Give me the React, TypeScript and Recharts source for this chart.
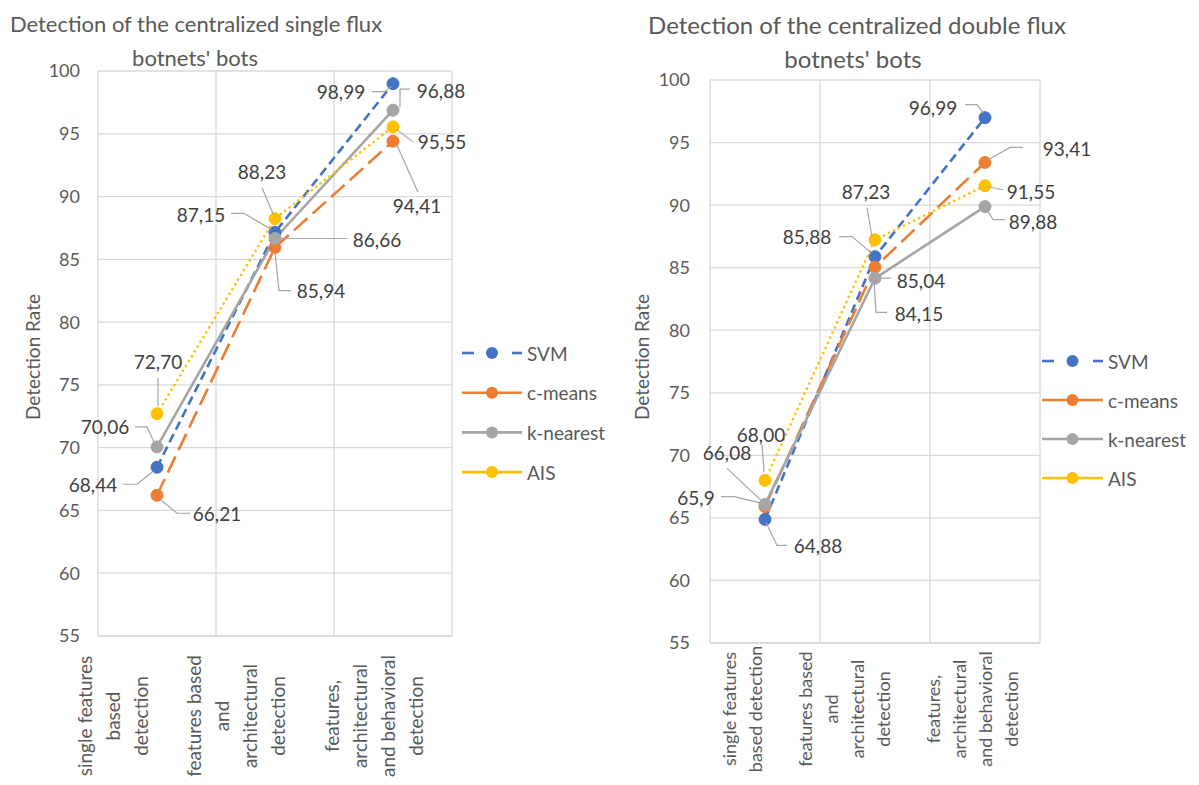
import { LineChart, Line, XAxis, YAxis, CartesianGrid, LabelList } from 'recharts'

const FONT = 'Lato, "Open Sans", sans-serif'

// categories and their wrapped tick lines
const categories = [
  'single features based detection',
  'features based and architectural detection',
  'features, architectural and behavioral detection',
]
const singleTickLines = [
  ['single features', 'based', 'detection'],
  ['features based', 'and', 'architectural', 'detection'],
  ['features,', 'architectural', 'and behavioral', 'detection'],
]
const doubleTickLines = [
  ['single features', 'based detection'],
  ['features based', 'and', 'architectural', 'detection'],
  ['features,', 'architectural', 'and behavioral', 'detection'],
]
const yTicks = [55, 60, 65, 70, 75, 80, 85, 90, 95, 100]

// centralized single flux
const singleSvm = [68.44, 87.15, 98.99]
const singleCMeans = [66.21, 85.94, 94.41]
const singleKNearest = [70.06, 86.66, 96.88]
const singleAis = [72.7, 88.23, 95.55]

// centralized double flux
const doubleSvm = [64.88, 85.88, 96.99]
const doubleCMeans = [65.9, 85.04, 93.41]
const doubleKNearest = [66.08, 84.15, 89.88]
const doubleAis = [68.0, 87.23, 91.55]

const SERIES = [
  { key: 'svm', name: 'SVM', color: '#4472C4', dash: '9 5', cap: 'butt' },
  { key: 'cMeans', name: 'c-means', color: '#ED7D31', dash: '18 7', cap: 'butt' },
  { key: 'kNearest', name: 'k-nearest', color: '#A5A5A5', dash: undefined, cap: 'butt' },
  { key: 'ais', name: 'AIS', color: '#FFC000', dash: '0.1 5.5', cap: 'round' },
]

const fmt2 = (v: number) => v.toFixed(2).replace('.', ',')
const fmtPlain = (v: number) => String(v).replace('.', ',')

function buildData(svm: number[], cm: number[], kn: number[], ais: number[], cmFmt = fmt2) {
  return categories.map((c, i) => ({
    category: c,
    svm: svm[i],
    cMeans: cm[i],
    kNearest: kn[i],
    ais: ais[i],
    svmLabel: fmt2(svm[i]),
    cMeansLabel: cmFmt(cm[i]),
    kNearestLabel: fmt2(kn[i]),
    aisLabel: fmt2(ais[i]),
  }))
}

const singleData = buildData(singleSvm, singleCMeans, singleKNearest, singleAis)
const doubleData = buildData(doubleSvm, doubleCMeans, doubleKNearest, doubleAis, fmtPlain)

type Place = { dx: number; dy: number; leader: number[][] }

// label offsets relative to each point (pixels)
const singlePlace: Record<string, Place[]> = {
  svm: [
    { dx: -64, dy: 17, leader: [[-34, 17], [-20, 17], [-5, 5]] },
    { dx: -74, dy: -18, leader: [[-44, -19], [-31, -19], [-4, -3]] },
    { dx: -52, dy: 8, leader: [[-21, 8], [-8, 8], [-2, 3]] },
  ],
  cMeans: [
    { dx: 60, dy: 18, leader: [[3, 4], [20, 18], [33, 18]] },
    { dx: 46, dy: 43, leader: [[0, 5], [4, 43], [16, 43]] },
    { dx: 24, dy: 64, leader: [[4, 4], [25, 51]] },
  ],
  kNearest: [
    { dx: -52, dy: -20, leader: [[-22, -20], [-10, -20], [-3, -5]] },
    { dx: 102, dy: 1, leader: [[6, 0], [72, 0]] },
    { dx: 48, dy: -20, leader: [[7, -3], [7, -21], [17, -21]] },
  ],
  ais: [
    { dx: 1, dy: -52, leader: [[1, -36], [1, -8]] },
    { dx: -13, dy: -47, leader: [[-13, -31], [-2, -5]] },
    { dx: 49, dy: 15, leader: [[4, 3], [20, 15]] },
  ],
}

const doublePlace: Record<string, Place[]> = {
  svm: [
    { dx: 53, dy: 26, leader: [[1, 3], [12, 26], [22, 26]] },
    { dx: -68, dy: -20, leader: [[-36, -20], [-23, -20], [-4, -4]] },
    { dx: -52, dy: -10, leader: [[-20, -13], [-8, -13], [-2, -5]] },
  ],
  cMeans: [
    { dx: -69, dy: -9, leader: [[-44, -10], [-31, -10], [-6, -4]] },
    { dx: 46, dy: 13, leader: [[4, 11], [16, 11]] },
    { dx: 82, dy: -14, leader: [[2, -2], [25, -15], [38, -15]] },
  ],
  kNearest: [
    { dx: -38, dy: -52, leader: [[-38, -36], [-4, -4]] },
    { dx: 44, dy: 35, leader: [[-1, 2], [1, 34], [12, 34]] },
    { dx: 48, dy: 15, leader: [[2, 3], [8, 13], [20, 13]] },
  ],
  ais: [
    { dx: -4, dy: -46, leader: [[-3, -36], [-1, -8]] },
    { dx: -9, dy: -48, leader: [[-8, -32], [-3, -3]] },
    { dx: 46, dy: 6, leader: [[3, 1], [18, 4]] },
  ],
}

function CategoryTick(props: any) {
  const { x, y, index, lines, shifts, drop, gap, size } = props
  const ls: string[] = lines[index] || []
  const cx = x + shifts[index]
  return (
    <g>
      {ls.map((t, k) => (
        <text
          key={k}
          transform={`translate(${cx + (k - (ls.length - 1) / 2) * gap},${y + drop}) rotate(-90)`}
          textAnchor="middle"
          dominantBaseline="central"
          fill="#595959"
          fontSize={size}
          fontFamily={FONT}
        >
          {t}
        </text>
      ))}
    </g>
  )
}

function makeLabel(places: Place[]) {
  return (props: any) => {
    const { x, y, index, value } = props
    const p = places[index]
    if (!p || x == null || y == null) return null
    const pts = p.leader.map(([a, b]) => `${x + a},${y + b}`).join(' ')
    return (
      <g>
        <polyline points={pts} fill="none" stroke="#A6A6A6" strokeWidth={1.2} />
        <text
          x={x + p.dx}
          y={y + p.dy}
          textAnchor="middle"
          dominantBaseline="central"
          fill="#404040"
          fontSize={19}
          fontFamily={FONT}
        >
          {value}
        </text>
      </g>
    )
  }
}

interface PanelProps {
  data: any[]
  place: Record<string, Place[]>
  width: number
  margin: { top: number; right: number; bottom: number; left: number }
  xHeight: number
  pad: number
  tickMargin: number
  tickLines: string[][]
  shifts: number[]
  drop: number
  gap: number
  catSize: number
}

function Panel({ data, place, width, margin, xHeight, pad, tickMargin, tickLines, shifts, drop, gap, catSize }: PanelProps) {
  return (
    <LineChart width={width} height={785} data={data} margin={margin}>
      <CartesianGrid
        stroke="#D9D9D9"
        strokeWidth={1.3}
        verticalCoordinatesGenerator={({ offset }: any) =>
          [0, 1, 2, 3].map((i) => offset.left + (offset.width * i) / 3)
        }
      />
      <XAxis
        dataKey="category"
        interval={0}
        padding={{ left: pad, right: pad }}
        height={xHeight}
        axisLine={{ stroke: '#D9D9D9', strokeWidth: 1.3 }}
        tickLine={false}
        tick={(p: any) => (
          <CategoryTick {...p} lines={tickLines} shifts={shifts} drop={drop} gap={gap} size={catSize} />
        )}
      />
      <YAxis
        domain={[55, 100]}
        ticks={yTicks}
        width={40}
        axisLine={false}
        tickLine={false}
        tickMargin={tickMargin}
        tick={{ fill: '#595959', fontSize: 18, fontFamily: FONT }}
      />
      {SERIES.map((s) => (
        <Line
          key={s.key}
          dataKey={s.key}
          name={s.name}
          type="linear"
          stroke={s.color}
          strokeWidth={2.6}
          strokeDasharray={s.dash}
          strokeLinecap={s.cap as any}
          dot={{ r: 6, fill: s.color, stroke: s.color, strokeWidth: 1, strokeDasharray: '' }}
          activeDot={false}
          isAnimationActive={false}
        >
          <LabelList dataKey={`${s.key}Label`} content={makeLabel(place[s.key])} />
        </Line>
      ))}
    </LineChart>
  )
}

function LegendBlock({ x, y, rowGap, width }: { x: number; y: number; rowGap: number; width: number }) {
  return (
    <g>
      {SERIES.map((s, i) => {
        const yy = y + i * rowGap
        const mid = x + width / 2
        return (
          <g key={s.key}>
            {s.key === 'svm' ? (
              <>
                <line x1={x} x2={x + 12} y1={yy} y2={yy} stroke={s.color} strokeWidth={2.6} />
                <line x1={x + width - 10} x2={x + width} y1={yy} y2={yy} stroke={s.color} strokeWidth={2.6} />
              </>
            ) : (
              <line x1={x} x2={x + width} y1={yy} y2={yy} stroke={s.color} strokeWidth={2.6} />
            )}
            <circle cx={mid} cy={yy} r={6} fill={s.color} />
            <text x={x + width + 5} y={yy} dominantBaseline="central" fill="#595959" fontSize={19} fontFamily={FONT}>
              {s.name}
            </text>
          </g>
        )
      })}
    </g>
  )
}

export default function App() {
  return (
    <div style={{ position: 'absolute', left: 0, top: 0, width: 1199, height: 785, background: '#fff', overflow: 'hidden' }}>
      <div style={{ position: 'absolute', left: 0, top: 0 }}>
        <Panel
          data={singleData}
          place={singlePlace}
          width={600}
          margin={{ top: 71, right: 148, bottom: 9, left: 58 }}
          xHeight={140}
          pad={59}
          tickMargin={12}
          tickLines={singleTickLines}
          shifts={[-45, -40, -20]}
          drop={72}
          gap={28}
          catSize={19}
        />
      </div>
      <div style={{ position: 'absolute', left: 600, top: 0 }}>
        <Panel
          data={doubleData}
          place={doublePlace}
          width={599}
          margin={{ top: 80, right: 159, bottom: 7, left: 70 }}
          xHeight={135}
          pad={55}
          tickMargin={14}
          tickLines={doubleTickLines}
          shifts={[-23, -31, -13]}
          drop={58}
          gap={26}
          catSize={18}
        />
      </div>
      <svg width={1199} height={785} style={{ position: 'absolute', left: 0, top: 0, pointerEvents: 'none' }}>
        <g fill="#595959" fontFamily={FONT} textAnchor="middle" dominantBaseline="central">
          <text x={196} y={23} fontSize={22}>Detection of the centralized single flux</text>
          <text x={195} y={57} fontSize={22}>botnets' bots</text>
          <text x={857} y={24} fontSize={24}>Detection of the centralized double flux</text>
          <text x={853} y={58} fontSize={24}>botnets' bots</text>
          <text transform="translate(32,357) rotate(-90)" fontSize={19}>Detection Rate</text>
          <text transform="translate(641,357) rotate(-90)" fontSize={19}>Detection Rate</text>
        </g>
        <LegendBlock x={462} y={353} rowGap={39.7} width={60} />
        <LegendBlock x={1042} y={361} rowGap={39} width={61} />
      </svg>
    </div>
  )
}
